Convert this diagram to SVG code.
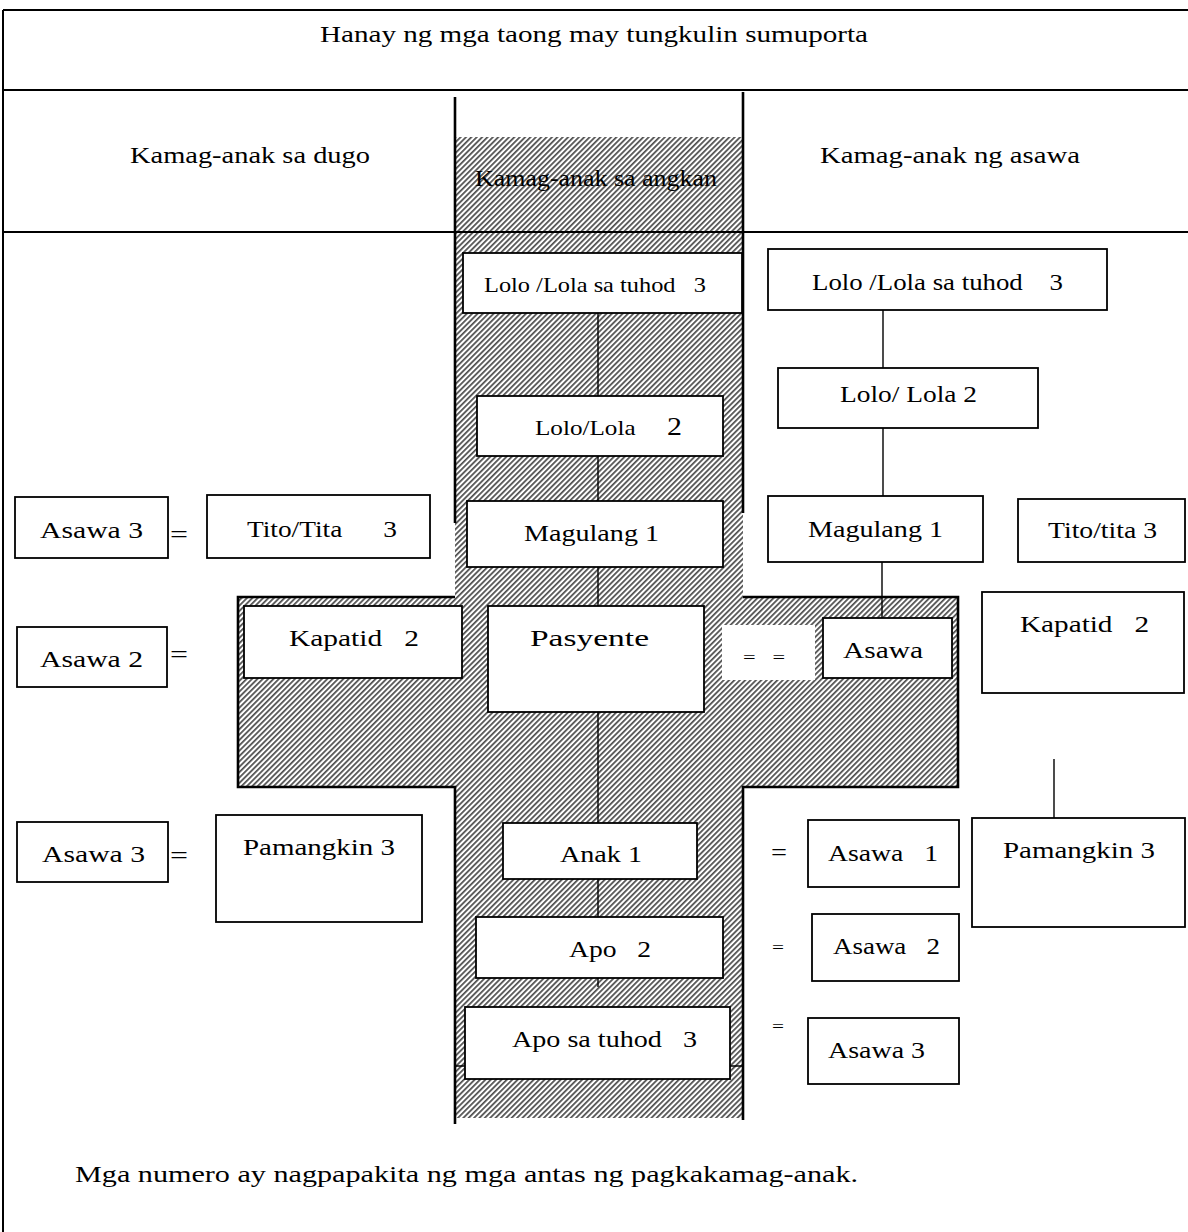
<svg xmlns="http://www.w3.org/2000/svg" width="1188" height="1232" viewBox="0 0 1188 1232">
<defs>
<pattern id="hatch" patternUnits="userSpaceOnUse" width="3.8" height="3.8" patternTransform="rotate(45)">
<rect width="3.8" height="3.8" fill="#fff"/>
<line x1="0.9" y1="0" x2="0.9" y2="3.8" stroke="#000" stroke-width="1.2"/>
</pattern>
</defs>
<style>
text{font-family:"Liberation Serif","Times New Roman",serif;font-size:24px;fill:#000;white-space:pre}
.sm{font-size:21px}
.eq{font-size:17px}
.box{fill:#fff;stroke:#000;stroke-width:1.8}
.frame{stroke:#000;stroke-width:2;fill:none}
.edge{stroke:#000;stroke-width:1.4;fill:none}
.bold{stroke:#000;stroke-width:2.6;fill:none}
.hatch{fill:url(#hatch);stroke:none}
</style>
<rect width="1188" height="1232" fill="#fff"/>
<g id="background">
<rect class="hatch" x="455" y="137" width="288" height="981"/>
<rect class="hatch" x="238" y="597" width="720" height="190"/>
<path class="frame" d="M3 10H1188M3 90H1188M3 232H1188M3 10V1232"/>
<path class="bold" d="M455 97V523M743 92V513M455 597H238V787H455V1124M743 597H958V787H743V1120"/>
</g>
<g id="headers">
<text x="320" y="42" textLength="548" lengthAdjust="spacingAndGlyphs">Hanay ng mga taong may tungkulin sumuporta</text>
<text x="130" y="163" textLength="240" lengthAdjust="spacingAndGlyphs">Kamag-anak sa dugo</text>
<text x="820" y="163" textLength="260" lengthAdjust="spacingAndGlyphs">Kamag-anak ng asawa</text>
<text x="475" y="186" textLength="242" lengthAdjust="spacingAndGlyphs">Kamag-anak sa angkan</text>
<text x="75" y="1182" textLength="783" lengthAdjust="spacingAndGlyphs">Mga numero ay nagpapakita ng mga antas ng pagkakamag-anak.</text>
</g>
<g id="connectors">
<path class="edge" d="M598 313V396M598 456V501M598 567V606M598 712V823M598 879V917M598 978V987"/>
<path class="edge" d="M883 310V368M883 428V496M882 562V618M1054 759V818"/>
<path class="edge" d="M455 1066H743"/>
</g>
<g id="node-lolo3-c"><rect class="box" x="463" y="253" width="279" height="60"/><text class="sm" x="484" y="292" textLength="222" lengthAdjust="spacingAndGlyphs">Lolo /Lola sa tuhod   3</text></g>
<g id="node-lolo2-c"><rect class="box" x="477" y="396" width="246" height="60"/><text class="sm" x="535" y="435" textLength="147" lengthAdjust="spacingAndGlyphs">Lolo/Lola     <tspan style="font-size:25px">2</tspan></text></g>
<g id="node-magulang-c"><rect class="box" x="467" y="501" width="256" height="66"/><text x="524" y="541" textLength="135" lengthAdjust="spacingAndGlyphs">Magulang 1</text></g>
<g id="node-pasyente"><rect class="box" x="488" y="606" width="216" height="106"/><text x="530" y="646" textLength="119" lengthAdjust="spacingAndGlyphs">Pasyente</text></g>
<g id="node-anak"><rect class="box" x="503" y="823" width="194" height="56"/><text x="560" y="862" textLength="82" lengthAdjust="spacingAndGlyphs">Anak 1</text></g>
<g id="node-apo"><rect class="box" x="476" y="917" width="247" height="61"/><text x="569" y="957" textLength="82" lengthAdjust="spacingAndGlyphs">Apo   2</text></g>
<g id="node-apo3"><rect class="box" x="465" y="1007" width="265" height="72"/><text x="512" y="1047" textLength="185" lengthAdjust="spacingAndGlyphs">Apo sa tuhod   3</text></g>
<g id="node-asawa3-l1"><rect class="box" x="15" y="497" width="153" height="61"/><text x="40" y="538" textLength="103" lengthAdjust="spacingAndGlyphs">Asawa 3</text><text x="170" y="542" textLength="18" lengthAdjust="spacingAndGlyphs">=</text></g>
<g id="node-tito-l"><rect class="box" x="207" y="495" width="223" height="63"/><text x="247" y="537" textLength="150" lengthAdjust="spacingAndGlyphs">Tito/Tita      3</text></g>
<g id="node-asawa2-l"><rect class="box" x="17" y="627" width="150" height="60"/><text x="40" y="667" textLength="103" lengthAdjust="spacingAndGlyphs">Asawa 2</text><text x="170" y="662" textLength="18" lengthAdjust="spacingAndGlyphs">=</text></g>
<g id="node-kapatid-l"><rect class="box" x="244" y="606" width="218" height="72"/><text x="289" y="646" textLength="130" lengthAdjust="spacingAndGlyphs">Kapatid   2</text></g>
<g id="node-asawa3-l2"><rect class="box" x="17" y="822" width="151" height="60"/><text x="42" y="862" textLength="103" lengthAdjust="spacingAndGlyphs">Asawa 3</text><text x="170" y="863" textLength="18" lengthAdjust="spacingAndGlyphs">=</text></g>
<g id="node-pamangkin-l"><rect class="box" x="216" y="815" width="206" height="107"/><text x="243" y="855" textLength="152" lengthAdjust="spacingAndGlyphs">Pamangkin 3</text></g>
<g id="node-lolo3-r"><rect class="box" x="768" y="249" width="339" height="61"/><text x="812" y="290" textLength="251" lengthAdjust="spacingAndGlyphs">Lolo /Lola sa tuhod    3</text></g>
<g id="node-lolo2-r"><rect class="box" x="778" y="368" width="260" height="60"/><text x="840" y="402" textLength="137" lengthAdjust="spacingAndGlyphs">Lolo/ Lola 2</text></g>
<g id="node-magulang-r"><rect class="box" x="768" y="496" width="215" height="66"/><text x="808" y="537" textLength="135" lengthAdjust="spacingAndGlyphs">Magulang 1</text></g>
<g id="node-tito-r"><rect class="box" x="1018" y="499" width="167" height="63"/><text x="1048" y="538" textLength="109" lengthAdjust="spacingAndGlyphs">Tito/tita 3</text></g>
<g id="eq-pasyente-asawa"><rect x="722" y="625" width="93" height="55" fill="#fff"/><text class="eq" x="743" y="663" textLength="42" lengthAdjust="spacingAndGlyphs">=   =</text></g>
<g id="node-asawa-r"><rect class="box" x="823" y="618" width="129" height="60"/><text x="843" y="658" textLength="80" lengthAdjust="spacingAndGlyphs">Asawa</text></g>
<g id="node-kapatid-r"><rect class="box" x="982" y="592" width="202" height="101"/><text x="1020" y="632" textLength="129" lengthAdjust="spacingAndGlyphs">Kapatid   2</text></g>
<g id="node-pamangkin-r"><rect class="box" x="972" y="818" width="213" height="109"/><text x="1003" y="858" textLength="152" lengthAdjust="spacingAndGlyphs">Pamangkin 3</text></g>
<g id="node-asawa1-r"><text x="771" y="860" textLength="16" lengthAdjust="spacingAndGlyphs">=</text><rect class="box" x="808" y="820" width="151" height="67"/><text x="828" y="861" textLength="110" lengthAdjust="spacingAndGlyphs">Asawa   1</text></g>
<g id="node-asawa2-r"><text class="eq" x="772" y="953" textLength="12" lengthAdjust="spacingAndGlyphs">=</text><rect class="box" x="812" y="914" width="147" height="67"/><text x="833" y="954" textLength="107" lengthAdjust="spacingAndGlyphs">Asawa   2</text></g>
<g id="node-asawa3-r"><text class="eq" x="772" y="1032" textLength="12" lengthAdjust="spacingAndGlyphs">=</text><rect class="box" x="808" y="1018" width="151" height="66"/><text x="828" y="1058" textLength="97" lengthAdjust="spacingAndGlyphs">Asawa 3</text></g>
</svg>
